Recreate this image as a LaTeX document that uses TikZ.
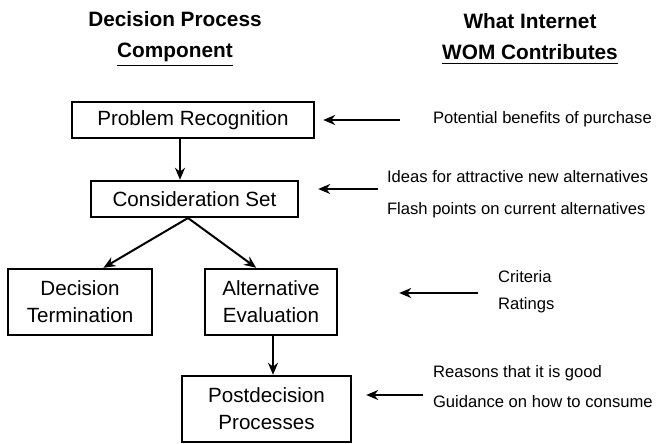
\documentclass[tikz,border=0pt]{standalone}
\usepackage{fontspec}
\setmainfont{Liberation Sans}
\usetikzlibrary{positioning,calc,arrows.meta}
\begin{document}
\begin{tikzpicture}[
    x=0.5pt, y=-0.5pt,
    stage/.style={draw, line width=1.2pt, align=center, inner sep=0pt,
        font=\fontsize{10.3}{13.5}\selectfont},
    head/.style={align=center, font=\fontsize{10.4}{15}\selectfont\bfseries},
    wom/.style={align=left, anchor=west, font=\fontsize{8.3}{10}\selectfont},
    arrow/.style={-{Stealth[length=6pt,width=5pt]}, line width=1pt}
]
    \useasboundingbox (0,0) rectangle (664,444);

    % column headings
    \node[head] (lefthead) at (175,39) {Decision Process\\[0.5pt]\underline{Component}};
    \node[head] (righthead) at (530,39) {What Internet\\[0.5pt]\underline{WOM Contributes}};

    % decision process
    \node[stage, minimum width=121pt, minimum height=18pt] (pr) at (193,120) {Problem Recognition};
    \node[stage, minimum width=103.5pt, minimum height=18pt] (cs) at (194.5,199) {Consideration Set};
    \node[stage, minimum width=72pt, minimum height=33pt] (dt) at (80,302) {Decision\\Termination};
    \node[stage, minimum width=66pt, minimum height=33pt] (ae) at (271,302) {Alternative\\Evaluation};
    \node[stage, minimum width=84.5pt, minimum height=33pt] (pp) at (266.5,409) {Postdecision\\Processes};

    \draw[arrow] ($(pr.south)+(-13,0)$) -- ($(cs.north)+(-14.5,0)$);
    \coordinate (split) at (188,218);
    \draw[arrow] (split) -- ($(dt.north west)!0.66!(dt.north east)$);
    \draw[arrow] (split) -- ($(ae.north west)!0.39!(ae.north east)$);
    \coordinate (aefoot) at ($(ae.south)+(2,0)$);
    \draw[arrow] (aefoot) -- (aefoot |- pp.north);

    % contributions of internet WOM
    \node[wom] (potential) at (426,119) {Potential benefits of purchase};
    \node[wom] (ideas) at (380,194) {Ideas for attractive new alternatives\\[6pt]Flash points on current alternatives};
    \node[wom] (criteria) at (491,292) {Criteria\\[3.5pt]Ratings};
    \node[wom] (reasons) at (426,387) {Reasons that it is good\\[5pt]Guidance on how to consume};

    \coordinate (w1) at (400,120);
    \coordinate (w2) at (378,189);
    \coordinate (w3) at (478,293);
    \coordinate (w4) at (423,395);
    \draw[arrow, shorten >=4pt] (w1) -- (w1 -| pr.east);
    \draw[arrow, shorten >=9.5pt] (w2) -- (w2 -| cs.east);
    \draw[arrow, shorten >=30.5pt] (w3) -- (w3 -| ae.east);
    \draw[arrow, shorten >=7pt] (w4) -- (w4 -| pp.east);
\end{tikzpicture}
\end{document}
